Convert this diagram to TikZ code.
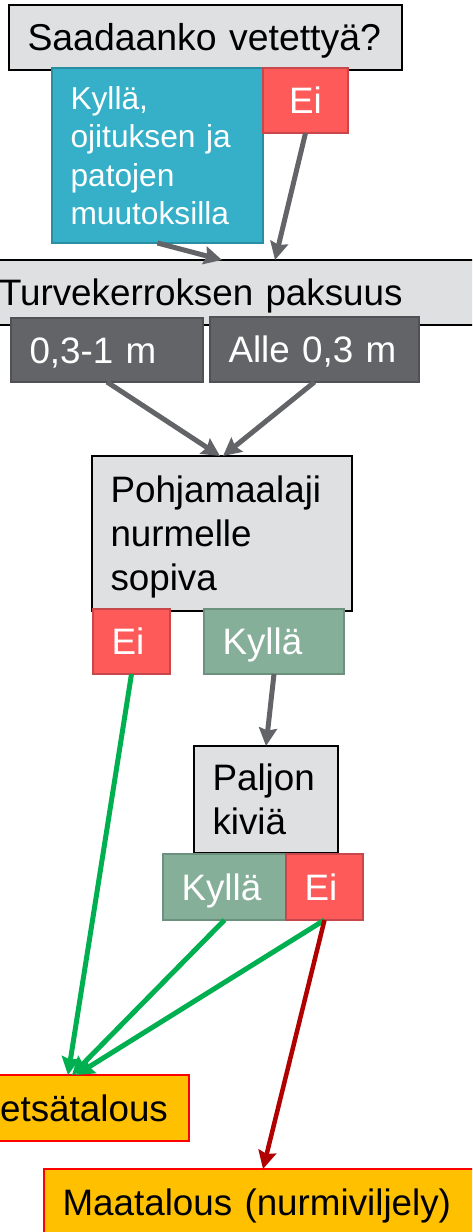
\documentclass[tikz,border=0pt]{standalone}
\usepackage{fontspec}
\setmainfont{Liberation Sans}
\usetikzlibrary{arrows.meta}
\definecolor{lgray}{HTML}{DFE0E2}
\definecolor{tealf}{HTML}{35B0C8}
\definecolor{teald}{HTML}{2A8EA2}
\definecolor{redf}{HTML}{FF5A5A}
\definecolor{redd}{HTML}{C8474A}
\definecolor{dgray}{HTML}{636468}
\definecolor{dgrayd}{HTML}{505155}
\definecolor{greenf}{HTML}{86AF9A}
\definecolor{greend}{HTML}{6C917F}
\definecolor{goldf}{HTML}{FFC000}
\definecolor{arrgray}{HTML}{636468}
\definecolor{arrgreen}{HTML}{00B050}
\definecolor{arrred}{HTML}{B00000}
\newcommand\fsreg{\fontsize{36.8}{44}\selectfont}
\newcommand\fstitle{\fontsize{37.4}{45}\selectfont}
\newcommand\fsteal{\fontsize{31.7}{38.5}\selectfont}
\begin{document}
\begin{tikzpicture}[x=1pt,y=-1pt,
  bx/.style={draw, line width=1.3pt, inner xsep=18.5pt, inner ysep=0pt, outer sep=0pt,
    anchor=north west, align=left, text height=26.3pt, text depth=0pt, font=\fsreg},
  qbox/.style={bx, fill=lgray, draw=black},
  tealbox/.style={bx, fill=tealf, draw=teald, text=white},
  nobox/.style={bx, fill=redf, draw=redd, text=white},
  yesbox/.style={bx, fill=greenf, draw=greend, text=white},
  darkbox/.style={bx, fill=dgray, draw=dgrayd, text=white},
  endbox/.style={bx, fill=goldf, draw=red, text=black},
  arr/.style={line width=5pt, -{Stealth[length=18pt,width=18pt,inset=2.5pt]}},
  garr/.style={arr, draw=arrgray},
  grarr/.style={arr, draw=arrgreen},
  rarr/.style={arr, line width=4.5pt, draw=arrred},
]
\useasboundingbox (0,0) rectangle (472,1232);
\clip (0,0) rectangle (472,1232);

\node[qbox, font=\fstitle, text height=26.8pt, text width=356pt, minimum height=65pt] (q1) at (9,5) {\mbox{Saadaanko vetettyä?}};
\node[tealbox, font=\fsteal, text height=22.7pt, text depth=115.5pt, text width=174pt, minimum height=175pt] (kylla1) at (52,68) {Kyllä,\\ojituksen ja\\patojen\\muutoksilla};
\node[nobox, align=center, text width=48pt, minimum height=65pt] (ei1) at (263,68) {Ei};

\node[qbox, text width=473pt, minimum height=65pt] (turve) at (-19.5,260) {\mbox{Turvekerroksen paksuus}};
\node[darkbox, text width=155pt, minimum height=64pt] (d1) at (11,318) {\mbox{0,3-1 m}};
\node[darkbox, text width=172pt, minimum height=65pt] (d2) at (210,317) {\mbox{Alle 0,3 m}};

\node[qbox, text depth=88pt, text width=223pt, minimum height=155pt] (pohja) at (92,456) {Pohjamaalaji\\nurmelle\\sopiva};
\node[nobox, text width=40pt, minimum height=65pt] (ei2) at (93,609) {Ei};
\node[yesbox, text width=103pt, minimum height=65pt] (kylla2) at (204,609) {Kyllä};

\node[qbox, text depth=44pt, text width=107pt, minimum height=107pt] (paljon) at (194,746) {Paljon\\kiviä};
\node[yesbox, text width=86pt, minimum height=66pt] (kylla3) at (163,854) {Kyllä};
\node[nobox, text width=40pt, minimum height=66pt] (ei3) at (286,854) {Ei};

\node[endbox, text width=201pt, minimum height=66pt] (metsa) at (-49,1075) {\mbox{Metsätalous}};
\node[endbox, text width=419pt, minimum height=67pt] (maa) at (44,1169) {\mbox{Maatalous (nurmiviljely)}};

\draw[garr] (kylla1.south) -- ([xshift=-13.5pt]turve.north);
\draw[garr] (ei1.south) -- ([xshift=39.5pt]turve.north);
\draw[garr] (d1.south) -- ([xshift=-2pt]pohja.north);
\draw[garr] (d2.south) -- ([xshift=1pt]pohja.north);
\draw[garr] (kylla2.south) -- (paljon.north);
\draw[grarr] (ei2.south) -- ([xshift=-2pt]metsa.north);
\draw[grarr] (kylla3.south) -- ([xshift=2pt]metsa.north);
\draw[grarr] (ei3.south) -- ([xshift=6pt]metsa.north);
\draw[rarr] (ei3.south) -- ([xshift=-9pt]maa.north);
\end{tikzpicture}
\end{document}
